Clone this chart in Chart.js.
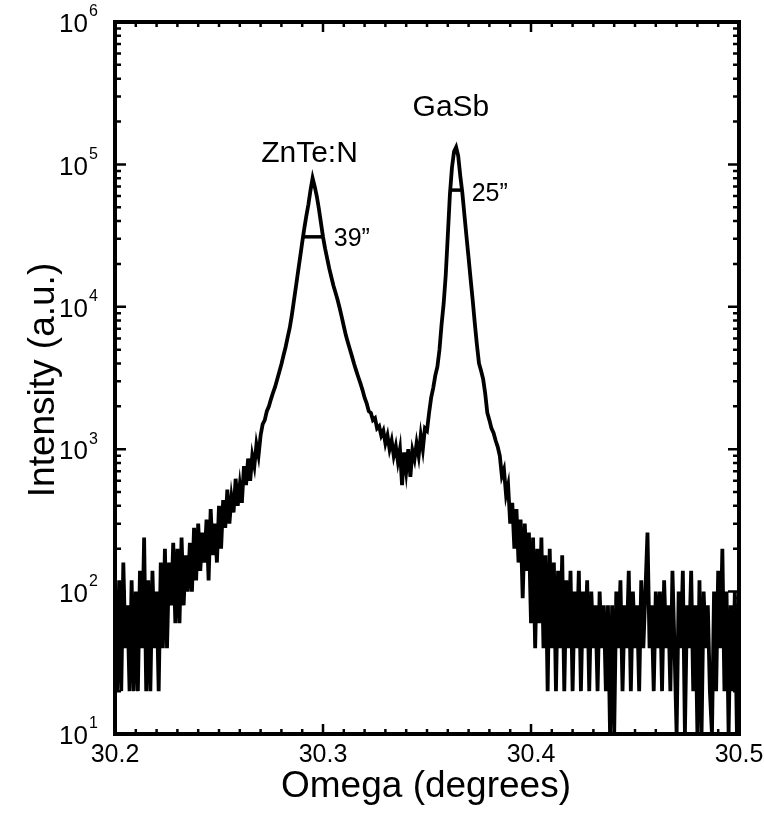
<!DOCTYPE html>
<html>
<head>
<meta charset="utf-8">
<script src="https://cdn.jsdelivr.net/npm/chart.js@4.4.1/dist/chart.umd.min.js"></script>
<style>
  html, body { margin: 0; padding: 0; background: #fff; }
  #wrap { width: 764px; height: 813px; }
</style>
</head>
<body>
<div id="wrap"><canvas id="xrdChart" width="764" height="813"></canvas></div>
<script>
// omega (degrees), one reading every 0.001 deg
const omega = [
  30.200, 30.201, 30.202, 30.203, 30.204, 30.205, 30.206, 30.207, 30.208, 30.209,
  30.210, 30.211, 30.212, 30.213, 30.214, 30.215, 30.216, 30.217, 30.218, 30.219,
  30.220, 30.221, 30.222, 30.223, 30.224, 30.225, 30.226, 30.227, 30.228, 30.229,
  30.230, 30.231, 30.232, 30.233, 30.234, 30.235, 30.236, 30.237, 30.238, 30.239,
  30.240, 30.241, 30.242, 30.243, 30.244, 30.245, 30.246, 30.247, 30.248, 30.249,
  30.250, 30.251, 30.252, 30.253, 30.254, 30.255, 30.256, 30.257, 30.258, 30.259,
  30.260, 30.261, 30.262, 30.263, 30.264, 30.265, 30.266, 30.267, 30.268, 30.269,
  30.270, 30.271, 30.272, 30.273, 30.274, 30.275, 30.276, 30.277, 30.278, 30.279,
  30.280, 30.281, 30.282, 30.283, 30.284, 30.285, 30.286, 30.287, 30.288, 30.289,
  30.290, 30.291, 30.292, 30.293, 30.294, 30.295, 30.296, 30.297, 30.298, 30.299,
  30.300, 30.301, 30.302, 30.303, 30.304, 30.305, 30.306, 30.307, 30.308, 30.309,
  30.310, 30.311, 30.312, 30.313, 30.314, 30.315, 30.316, 30.317, 30.318, 30.319,
  30.320, 30.321, 30.322, 30.323, 30.324, 30.325, 30.326, 30.327, 30.328, 30.329,
  30.330, 30.331, 30.332, 30.333, 30.334, 30.335, 30.336, 30.337, 30.338, 30.339,
  30.340, 30.341, 30.342, 30.343, 30.344, 30.345, 30.346, 30.347, 30.348, 30.349,
  30.350, 30.351, 30.352, 30.353, 30.354, 30.355, 30.356, 30.357, 30.358, 30.359,
  30.360, 30.361, 30.362, 30.363, 30.364, 30.365, 30.366, 30.367, 30.368, 30.369,
  30.370, 30.371, 30.372, 30.373, 30.374, 30.375, 30.376, 30.377, 30.378, 30.379,
  30.380, 30.381, 30.382, 30.383, 30.384, 30.385, 30.386, 30.387, 30.388, 30.389,
  30.390, 30.391, 30.392, 30.393, 30.394, 30.395, 30.396, 30.397, 30.398, 30.399,
  30.400, 30.401, 30.402, 30.403, 30.404, 30.405, 30.406, 30.407, 30.408, 30.409,
  30.410, 30.411, 30.412, 30.413, 30.414, 30.415, 30.416, 30.417, 30.418, 30.419,
  30.420, 30.421, 30.422, 30.423, 30.424, 30.425, 30.426, 30.427, 30.428, 30.429,
  30.430, 30.431, 30.432, 30.433, 30.434, 30.435, 30.436, 30.437, 30.438, 30.439,
  30.440, 30.441, 30.442, 30.443, 30.444, 30.445, 30.446, 30.447, 30.448, 30.449,
  30.450, 30.451, 30.452, 30.453, 30.454, 30.455, 30.456, 30.457, 30.458, 30.459,
  30.460, 30.461, 30.462, 30.463, 30.464, 30.465, 30.466, 30.467, 30.468, 30.469,
  30.470, 30.471, 30.472, 30.473, 30.474, 30.475, 30.476, 30.477, 30.478, 30.479,
  30.480, 30.481, 30.482, 30.483, 30.484, 30.485, 30.486, 30.487, 30.488, 30.489,
  30.490, 30.491, 30.492, 30.493, 30.494, 30.495, 30.496, 30.497, 30.498, 30.499,
  30.500
];

// intensity (a.u.)
const intensity = [
  100, 20, 120, 20, 160, 40, 80, 20, 120, 20,
  100, 20, 140, 40, 240, 20, 120, 20, 140, 40,
  100, 20, 160, 40, 200, 40, 160, 80, 220, 60,
  200, 60, 240, 80, 180, 100, 220, 100, 280, 120,
  300, 140, 260, 160, 320, 120, 380, 180, 300, 160,
  400, 200, 440, 280, 520, 300, 460, 360, 620, 400,
  560, 420, 760, 560, 860, 600, 900, 760, 1080, 900,
  1250, 1500, 1600, 1850, 2000, 2250, 2500, 2750, 3100, 3500,
  3950, 4550, 5200, 6100, 7100, 8700, 11000, 13900, 17600, 22300,
  28300, 35500, 43600, 52500, 66000, 80000, 70000, 60000, 49000, 39000,
  31000, 25700, 21900, 18600, 16200, 14100, 12600, 11200, 9800, 8500,
  7300, 6300, 5600, 5000, 4450, 3950, 3550, 3200, 2900, 2600,
  2300, 2100, 1850, 1800, 1600, 1650, 1400, 1450, 1250, 1350,
  1100, 1250, 1000, 1150, 900, 1050, 820, 1000, 560, 950,
  700, 1000, 640, 980, 850, 1100, 900, 1250, 1000, 1400,
  1350, 1800, 2300, 2700, 3300, 3800, 5000, 7500, 10500, 16600,
  31600, 61000, 95000, 123000, 132000, 115000, 83000, 63000, 44000, 31000,
  22000, 15500, 11000, 7600, 5400, 4000, 3550, 3100, 2450, 1800,
  1600, 1400, 1300, 1150, 1040, 900, 650, 720, 480, 560,
  300, 420, 200, 380, 160, 320, 90, 300, 140, 260,
  60, 240, 40, 200, 60, 240, 40, 180, 20, 200,
  40, 160, 20, 140, 40, 180, 20, 120, 40, 140,
  20, 100, 40, 140, 20, 100, 40, 120, 20, 100,
  40, 80, 20, 100, 40, 80, 20, 80, 10, 80,
  10, 100, 40, 120, 20, 80, 40, 140, 20, 100,
  40, 80, 20, 120, 40, 100, 260, 40, 80, 20,
  100, 40, 100, 20, 120, 40, 80, 20, 140, 40,
  10, 100, 40, 140, 10, 80, 40, 140, 20, 80,
  10, 120, 10, 100, 40, 80, 20, 10, 100, 20,
  140, 40, 200, 20, 100, 10, 80, 20, 100, 10,
  80
];

// FWHM bars (half maximum of each peak)
const fwhmZnTeX = [30.2904, 30.3006];
const fwhmZnTeY = [31000, 31000];
const fwhmGaSbX = [30.3610, 30.3672];
const fwhmGaSbY = [66000, 66000];

const peakLabels = ['ZnTe:N', 'GaSb'];
const peakLabelX = [30.2935, 30.3615];
const peakLabelY = [118000, 250000];
const widthLabels = ['39\u201d', '25\u201d'];
const widthLabelX = [30.3052, 30.3715];
const widthLabelY = [30000, 62000];

const xTicks = [30.2, 30.3, 30.4, 30.5];
const xTickLabels = ['30.2', '30.3', '30.4', '30.5'];
const yExponents = [1, 2, 3, 4, 5, 6];

const FONT = '"Liberation Sans", Arial, Helvetica, sans-serif';

function toPoints(xs, ys) {
    return xs.map((x, i) => ({ x: x, y: ys[i] }));
}

const framePlugin = {
    id: 'framePlugin',
    afterDatasetsDraw(chart) {
        const ctx = chart.ctx;
        const xs = chart.scales.x;
        const ys = chart.scales.y;
        const a = chart.chartArea;

        ctx.save();
        ctx.strokeStyle = '#000';
        ctx.lineCap = 'butt';

        // inward ticks on all four sides
        ctx.lineWidth = 2.5;
        for (let i = 0; i <= 30; i++) {
            const v = 30.2 + i * 0.01;
            const px = xs.getPixelForValue(v);
            const len = (i % 10 === 0) ? 10 : 5;
            ctx.beginPath();
            ctx.moveTo(px, a.bottom); ctx.lineTo(px, a.bottom - len);
            ctx.moveTo(px, a.top); ctx.lineTo(px, a.top + len);
            ctx.stroke();
        }
        for (let d = 1; d <= 6; d++) {
            for (let m = 1; m <= 9; m++) {
                if (d === 6 && m > 1) break;
                const py = ys.getPixelForValue(m * Math.pow(10, d));
                const len = (m === 1) ? 11 : 6;
                ctx.beginPath();
                ctx.moveTo(a.left, py); ctx.lineTo(a.left + len, py);
                ctx.moveTo(a.right, py); ctx.lineTo(a.right - len, py);
                ctx.stroke();
            }
        }

        // frame
        ctx.lineWidth = 4;
        ctx.strokeRect(a.left, a.top, a.right - a.left, a.bottom - a.top);

        ctx.fillStyle = '#000';

        // x tick labels
        ctx.font = '25px ' + FONT;
        ctx.textAlign = 'center';
        ctx.textBaseline = 'top';
        xTicks.forEach((v, i) => {
            ctx.fillText(xTickLabels[i], xs.getPixelForValue(v), a.bottom + 9);
        });

        // y tick labels as 10^n
        yExponents.forEach(n => {
            const py = ys.getPixelForValue(Math.pow(10, n));
            ctx.font = '26px ' + FONT;
            ctx.textAlign = 'right';
            ctx.textBaseline = 'middle';
            ctx.fillText('10', 88, py + 3);
            ctx.font = '16px ' + FONT;
            ctx.textAlign = 'left';
            ctx.fillText(String(n), 89, py - 10);
        });

        // axis titles
        ctx.font = '37px ' + FONT;
        ctx.textAlign = 'center';
        ctx.textBaseline = 'middle';
        ctx.fillText('Omega (degrees)', 426, 787);
        ctx.save();
        ctx.translate(44, 380);
        ctx.rotate(-Math.PI / 2);
        ctx.fillText('Intensity (a.u.)', 0, 0);
        ctx.restore();

        // peak annotations
        ctx.font = '30px ' + FONT;
        ctx.textAlign = 'center';
        peakLabels.forEach((t, i) => {
            ctx.fillText(t, xs.getPixelForValue(peakLabelX[i]), ys.getPixelForValue(peakLabelY[i]));
        });
        ctx.font = '25px ' + FONT;
        ctx.textAlign = 'left';
        widthLabels.forEach((t, i) => {
            ctx.fillText(t, xs.getPixelForValue(widthLabelX[i]), ys.getPixelForValue(widthLabelY[i]));
        });

        ctx.restore();
    }
};

const ctx = document.getElementById('xrdChart').getContext('2d');

new Chart(ctx, {
    type: 'line',
    data: {
        datasets: [{
            data: toPoints(omega, intensity),
            borderColor: '#000',
            borderWidth: 3.8,
            pointRadius: 0,
            tension: 0,
            fill: false
        }, {
            data: toPoints(fwhmZnTeX, fwhmZnTeY),
            borderColor: '#000',
            borderWidth: 3.5,
            pointRadius: 0
        }, {
            data: toPoints(fwhmGaSbX, fwhmGaSbY),
            borderColor: '#000',
            borderWidth: 3.5,
            pointRadius: 0
        }]
    },
    options: {
        responsive: false,
        animation: false,
        devicePixelRatio: 1,
        layout: {
            padding: { left: 115, right: 25, top: 22, bottom: 79 }
        },
        scales: {
            x: { type: 'linear', min: 30.2, max: 30.5, display: false },
            y: { type: 'logarithmic', min: 10, max: 1000000, display: false }
        },
        plugins: {
            legend: { display: false },
            tooltip: { enabled: false }
        }
    },
    plugins: [framePlugin]
});
</script>
</body>
</html>
